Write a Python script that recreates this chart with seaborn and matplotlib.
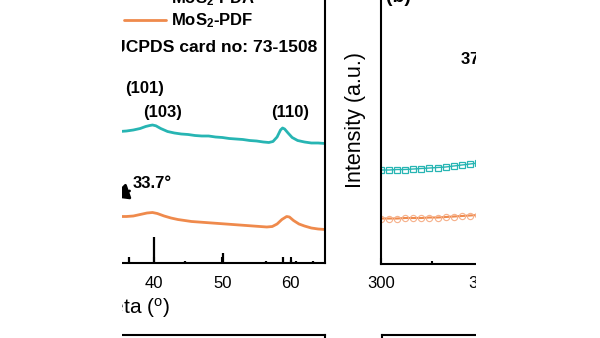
import matplotlib
matplotlib.use("Agg")
import matplotlib.pyplot as plt
from matplotlib.patches import Rectangle
from matplotlib.ticker import MultipleLocator
import seaborn as sns

# ---- XRD pattern (panel a) ----
two_theta = [35.0, 36.0, 37.0, 38.0, 38.8, 39.4, 39.8, 40.3, 41.0, 42.0, 43.0, 44.0,
             45.0, 46.0, 47.0, 48.0, 49.0, 50.0, 51.0, 52.0, 53.0, 54.0, 55.0, 56.0,
             56.8, 57.4, 58.0, 58.5, 58.8, 59.1, 59.6, 60.2, 61.0, 62.0, 63.0, 64.0, 65.0]
pda_xrd = [131.5, 132.0, 133.0, 134.5, 136.5, 137.5, 138.0, 137.2, 134.5, 131.5, 130.0, 129.0,
           128.5, 127.5, 127.0, 127.0, 126.0, 125.5, 124.5, 124.0, 123.5, 122.5, 122.0, 121.0,
           120.5, 121.5, 126.0, 133.0, 135.0, 134.0, 130.0, 125.5, 122.5, 121.0, 120.0, 120.0, 119.5]

two_theta_pdf = [35.0, 36.0, 37.0, 38.0, 39.0, 39.8, 40.5, 41.5, 42.5, 43.5, 44.5, 45.5,
                 46.5, 47.5, 48.5, 49.5, 50.5, 51.5, 52.5, 53.5, 54.5, 55.5, 56.5, 57.3,
                 58.0, 58.7, 59.4, 59.8, 60.4, 61.2, 62.0, 63.0, 64.0, 65.0]
pdf_xrd = [46.5, 46.5, 47.0, 48.5, 50.0, 50.5, 49.5, 47.0, 45.0, 43.5, 42.5, 41.5,
           41.0, 40.5, 40.0, 39.5, 39.0, 38.5, 38.0, 37.5, 37.0, 36.5, 36.0, 36.5,
           39.0, 43.5, 46.5, 46.0, 42.5, 39.0, 37.0, 35.0, 34.0, 33.5]

# JCPDS 73-1508 reference lines
ref_pos = [36.3, 40.0, 44.5, 50.1, 55.0, 56.4, 58.8, 60.1, 60.8, 63.2]
ref_int = [6.5, 26.5, 2.5, 10.0, 1.5, 2.0, 6.5, 3.5, 2.5, 2.0]

xrd_ticks = [10, 20, 30, 40, 50, 60]

# ---- Spectra (panel b) ----
shift = [300, 304, 308, 312, 316, 320, 324, 328, 332, 336, 340, 344, 348, 352]
pda_spec = [94.0, 94.0, 94.5, 94.5, 95.0, 95.5, 96.0, 96.5, 97.0, 98.0, 99.0, 100.0, 101.0, 102.0]
pdf_spec = [45.5, 45.5, 45.5, 46.0, 46.0, 46.0, 46.5, 46.5, 47.0, 47.5, 48.0, 48.5, 49.0, 49.5]

TEAL = "#27b5b3"
ORANGE = "#ef8a4c"

sns.set_theme(style="ticks")
plt.rcParams["font.family"] = ["Liberation Sans", "DejaVu Sans"]
plt.rcParams["mathtext.default"] = "regular"
plt.rcParams["axes.linewidth"] = 1.5
for key in ("text.color", "axes.labelcolor", "xtick.color", "ytick.color",
            "axes.edgecolor"):
    plt.rcParams[key] = "black"

W, H = 600, 338
fig = plt.figure(figsize=(W / 100, H / 100), dpi=100)
fig.patch.set_facecolor("white")


def rect(x0, y0, x1, y1):
    return [x0 / W, 1 - y1 / H, (x1 - x0) / W, (y1 - y0) / H]


# panel a
ax = fig.add_axes(rect(-51.5, -37, 325, 263))
ax.set_facecolor("white")
sns.lineplot(x=two_theta, y=pda_xrd, ax=ax, color=TEAL, lw=2.0, label="MoS$_2$-PDA")
sns.lineplot(x=two_theta_pdf, y=pdf_xrd, ax=ax, color=ORANGE, lw=2.0, label="MoS$_2$-PDF")
ax.vlines(ref_pos, 0, ref_int, color="black", lw=1.6)
ax.set_xlim(10, 65)
ax.set_ylim(0, 300)
ax.set_xticks(xrd_ticks)
ax.set_yticks([])
ax.tick_params(axis="x", direction="in", length=4, width=1.5, labelsize=12, pad=9)
for s in ax.spines.values():
    s.set_color("black")
    s.set_linewidth(1.5)
ax.set_xlabel("2Theta ($^o$)", fontsize=15, ha="right", va="center")
ax.xaxis.set_label_coords((170 + 51.5) / 376.5, (263 - 308) / 300)

leg = ax.legend(loc="center left", bbox_to_anchor=(124 / W, 1 - 10 / H),
                bbox_transform=fig.transFigure, frameon=False, borderpad=0,
                borderaxespad=0, handlelength=2.5, handletextpad=0.3,
                labelspacing=0.2, prop={"weight": "bold", "size": 12})
for t in leg.get_texts():
    t.set_color("black")

ax.text(63.94, 215, "JCPDS card no: 73-1508", ha="right", va="center",
        fontsize=12.6, fontweight="bold")
ax.text(38.7, 175, "(101)", ha="center", va="center", fontsize=12, fontweight="bold")
ax.text(41.3, 151, "(103)", ha="center", va="center", fontsize=12, fontweight="bold")
ax.text(59.85, 151, "(110)", ha="center", va="center", fontsize=12, fontweight="bold")
ax.annotate("33.7°", xy=(33.9, 66), xytext=(36.93, 80), ha="left", va="center",
            fontsize=12, fontweight="bold",
            arrowprops=dict(arrowstyle="-|>", color="black", lw=2.0,
                            mutation_scale=24, shrinkA=0, shrinkB=0))

# panel b
bx = fig.add_axes(rect(381, -37, 785, 264))
bx.set_facecolor("white")
sns.lineplot(x=shift, y=pda_spec, ax=bx, color=TEAL, lw=1.0, marker="s",
             markersize=4.5, markerfacecolor="none", markeredgecolor=TEAL,
             markeredgewidth=0.9)
sns.lineplot(x=shift, y=pdf_spec, ax=bx, color=ORANGE, lw=1.5, marker="o",
             markersize=4.5, markerfacecolor="none", markeredgecolor="#f6b08a",
             markeredgewidth=0.8)
bx.set_xlim(300, 500)
bx.set_ylim(0, 301)
bx.xaxis.set_major_locator(MultipleLocator(50))
bx.xaxis.set_minor_locator(MultipleLocator(25))
bx.set_yticks([])
bx.tick_params(axis="x", which="major", direction="in", length=4, width=1.5,
               labelsize=12, pad=9)
bx.tick_params(axis="x", which="minor", direction="in", length=2.5, width=1.5)
for s in bx.spines.values():
    s.set_color("black")
    s.set_linewidth(1.5)
bx.set_ylabel("Intensity (a.u.)", fontsize=15.5, va="center", ha="center")
bx.yaxis.set_label_coords((355 - 381) / 404, (264 - 120) / 301)
bx.text((386 - 381) / 404, (264 + 3) / 301, "(b)", transform=bx.transAxes,
        ha="left", va="center", fontsize=14, fontweight="bold")
bx.text(339.1, 207, "378 cm$^{-1}$", ha="left", va="center", fontsize=12,
        fontweight="bold")

# panels below (only their top edges show)
cx = fig.add_axes(rect(-51.5, 335, 325, 640))
dx = fig.add_axes(rect(382, 335, 785, 640))
for a in (cx, dx):
    a.set_xticks([])
    a.set_yticks([])
    a.set_facecolor("white")
    for s in a.spines.values():
        s.set_color("black")
        s.set_linewidth(1.5)

# trimmed margins
for x0, x1 in ((0, 122), (476, W)):
    fig.add_artist(Rectangle((x0 / W, 0), (x1 - x0) / W, 1, transform=fig.transFigure,
                             facecolor="white", edgecolor="none", zorder=10))

fig.savefig("out.png", dpi=100)
